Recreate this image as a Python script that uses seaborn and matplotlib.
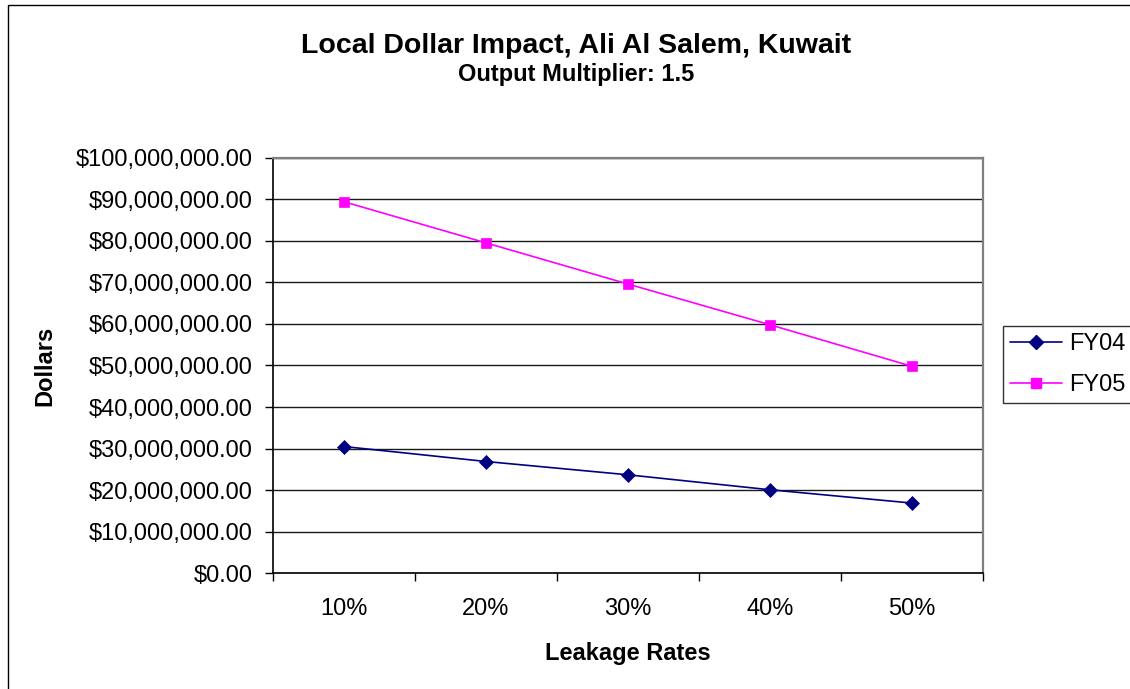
import matplotlib
matplotlib.use("Agg")
import matplotlib.pyplot as plt
import matplotlib.ticker as mticker
import matplotlib.patches as mpatches
import seaborn as sns
import pandas as pd

# values
rates = ["10%", "20%", "30%", "40%", "50%"]
fy04 = [30.5e6, 26.9e6, 23.7e6, 20.1e6, 16.9e6]
fy05 = [89.4e6, 79.5e6, 69.6e6, 59.8e6, 49.8e6]

df = pd.DataFrame({
    "pos": list(range(len(rates))) * 2,
    "value": fy04 + fy05,
    "series": ["FY04"] * len(rates) + ["FY05"] * len(rates),
})

sns.set_style("white")
plt.rcParams["font.family"] = ["Liberation Sans", "DejaVu Sans"]
for k in ["text.color", "axes.labelcolor", "xtick.color", "ytick.color"]:
    plt.rcParams[k] = "black"

W, H = 1130, 689
fig = plt.figure(figsize=(W / 100, H / 100), dpi=100)
ax = fig.add_axes([273 / W, 1 - 573.3 / H, 710 / W, 415.6 / H])

sns.lineplot(data=df, x="pos", y="value", hue="series", style="series",
             palette={"FY04": "#000080", "FY05": "#FF00FF"},
             markers={"FY04": "D", "FY05": "s"}, dashes=False,
             linewidth=1.2, ax=ax, legend=False)

for line, ms in zip(ax.lines, [6.8, 7.6]):
    line.set_markersize(ms)
    line.set_markeredgecolor(line.get_color())
    line.set_markeredgewidth(0.5)

ax.set_xlim(-0.5, len(rates) - 0.5)
ax.set_ylim(0, 100e6)
ax.yaxis.set_major_locator(mticker.MultipleLocator(10e6))
ax.yaxis.set_major_formatter(mticker.FuncFormatter(lambda v, p: "${:,.2f}".format(v)))
ax.set_xticks(range(len(rates)))
ax.set_xticklabels(rates)
ax.set_xticks([i - 0.5 for i in range(len(rates) + 1)], minor=True)

ax.grid(axis="y", color="#1a1a1a", linewidth=1.0)
ax.set_axisbelow(True)
ax.tick_params(axis="y", direction="out", length=6, width=1, color="black",
               pad=8.5, labelsize=17, left=True)
ax.tick_params(axis="x", which="major", length=0, pad=18, labelsize=17)
ax.tick_params(axis="x", which="minor", direction="out", length=6, width=1,
               color="black", bottom=True)

for s in ["left", "bottom"]:
    ax.spines[s].set_color("black")
    ax.spines[s].set_linewidth(1.2)
for s in ["top", "right"]:
    ax.spines[s].set_color("#808080")
    ax.spines[s].set_linewidth(1.6)

ax.set_xlabel("Leakage Rates", fontsize=17, fontweight="bold")
ax.set_ylabel("Dollars", fontsize=17, fontweight="bold")
ax.xaxis.set_label_coords(0.5, -0.165)
ax.yaxis.set_label_coords(-0.3046, 0.5)

fig.text(576 / W, 1 - 52.7 / H, "Local Dollar Impact, Ali Al Salem, Kuwait",
         ha="center", va="baseline", fontsize=20.5, fontweight="bold")
fig.text(576 / W, 1 - 80.5 / H, "Output Multiplier: 1.5",
         ha="center", va="baseline", fontsize=17, fontweight="bold")

handles = [plt.Line2D([], [], color=l.get_color(), marker=l.get_marker(),
                      markersize=l.get_markersize(), markeredgecolor=l.get_color(),
                      linewidth=1.2) for l in ax.lines]
leg = fig.legend(handles, ["FY04", "FY05"], loc="upper left",
                 bbox_to_anchor=(1003 / W, 1 - 326 / H), fontsize=17,
                 frameon=True, fancybox=False, edgecolor="black",
                 handlelength=2.2, handletextpad=0.3, labelspacing=0.8,
                 borderpad=0.3, borderaxespad=0)
leg.get_frame().set_linewidth(1.0)

# outer chart border (right and bottom edges lie outside the image)
fig.patches.append(mpatches.Rectangle((8 / W, -0.1), 1.2, 1 - 5 / H + 0.1,
                                      transform=fig.transFigure, fill=False,
                                      edgecolor="black", linewidth=1.0))

fig.savefig("out.png", dpi=100)
